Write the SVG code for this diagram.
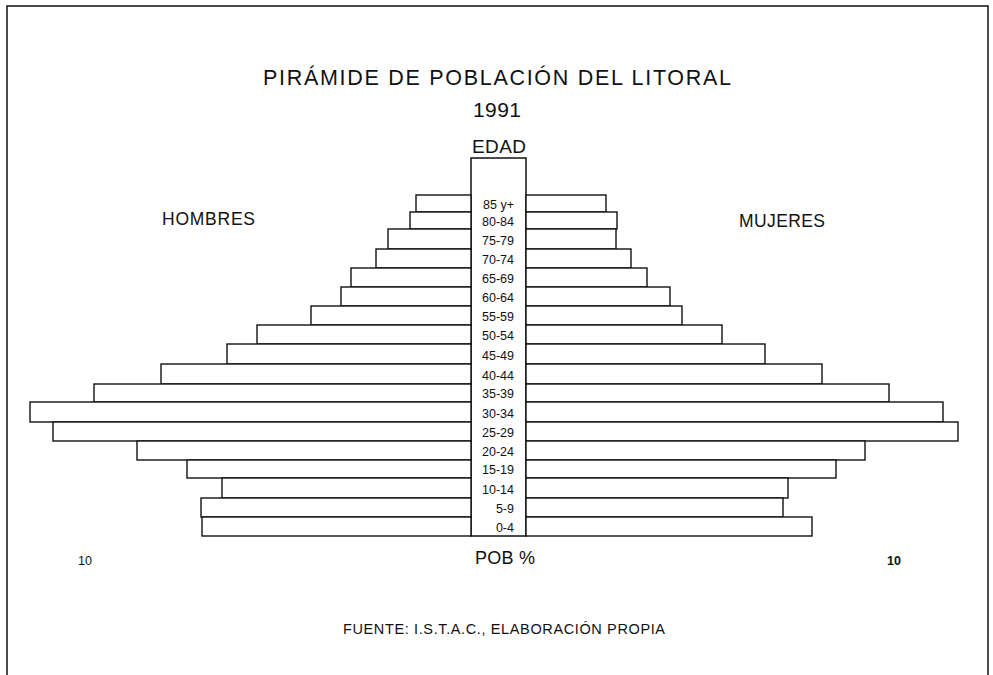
<svg xmlns="http://www.w3.org/2000/svg" width="993" height="675" viewBox="0 0 993 675">
<style>
.bg{fill:#fff}
.frame{fill:none;stroke:#111;stroke-width:1.5}
.bar{fill:#fff;stroke:#111;stroke-width:1.4}
.col{fill:#fff;stroke:#111;stroke-width:1.5}
.t{font-family:"Liberation Sans",Arial,sans-serif;fill:#111}
.age{font-family:"Liberation Sans",Arial,sans-serif;font-size:12.5px;fill:#111;text-anchor:end}
</style>
<rect class="bg" x="0" y="0" width="993" height="675"/>
<g id="frame">
<path class="frame" d="M7,675 V6 H988 V675"/>
</g>
<g id="titles">
<text class="t" x="263" y="85" font-size="21.5" textLength="468" lengthAdjust="spacing">PIRÁMIDE DE POBLACIÓN DEL LITORAL</text>
<text class="t" x="473" y="117" font-size="21" textLength="48" lengthAdjust="spacing">1991</text>
</g>
<g id="column">
<rect class="col" x="471" y="158" width="55" height="378"/>
<text class="t" x="472" y="153" font-size="19" textLength="54" lengthAdjust="spacing">EDAD</text>
</g>
<g id="side-labels">
<text class="t" x="162" y="225" font-size="17.5" textLength="93" lengthAdjust="spacing">HOMBRES</text>
<text class="t" x="739" y="227" font-size="17.5" textLength="86" lengthAdjust="spacing">MUJERES</text>
</g>
<g id="bars">
<g id="row-85"><rect class="bar" x="416" y="195" width="55" height="17"/><rect class="bar" x="526" y="195" width="80" height="17"/><text class="age" x="514" y="209">85 y+</text></g>
<g id="row-80"><rect class="bar" x="410" y="212" width="61" height="17"/><rect class="bar" x="526" y="212" width="91" height="17"/><text class="age" x="514" y="226">80-84</text></g>
<g id="row-75"><rect class="bar" x="388" y="229" width="83" height="20"/><rect class="bar" x="526" y="229" width="90" height="20"/><text class="age" x="514" y="245">75-79</text></g>
<g id="row-70"><rect class="bar" x="376" y="249" width="95" height="19"/><rect class="bar" x="526" y="249" width="105" height="19"/><text class="age" x="514" y="264">70-74</text></g>
<g id="row-65"><rect class="bar" x="351" y="268" width="120" height="19"/><rect class="bar" x="526" y="268" width="121" height="19"/><text class="age" x="514" y="283">65-69</text></g>
<g id="row-60"><rect class="bar" x="341" y="287" width="130" height="19"/><rect class="bar" x="526" y="287" width="144" height="19"/><text class="age" x="514" y="302">60-64</text></g>
<g id="row-55"><rect class="bar" x="311" y="306" width="160" height="19"/><rect class="bar" x="526" y="306" width="156" height="19"/><text class="age" x="514" y="321">55-59</text></g>
<g id="row-50"><rect class="bar" x="257" y="325" width="214" height="19"/><rect class="bar" x="526" y="325" width="196" height="19"/><text class="age" x="514" y="340">50-54</text></g>
<g id="row-45"><rect class="bar" x="227" y="344" width="244" height="20"/><rect class="bar" x="526" y="344" width="239" height="20"/><text class="age" x="514" y="360">45-49</text></g>
<g id="row-40"><rect class="bar" x="161" y="364" width="310" height="20"/><rect class="bar" x="526" y="364" width="296" height="20"/><text class="age" x="514" y="380">40-44</text></g>
<g id="row-35"><rect class="bar" x="94" y="384" width="377" height="18"/><rect class="bar" x="526" y="384" width="363" height="18"/><text class="age" x="514" y="398">35-39</text></g>
<g id="row-30"><rect class="bar" x="30" y="402" width="441" height="20"/><rect class="bar" x="526" y="402" width="417" height="20"/><text class="age" x="514" y="418">30-34</text></g>
<g id="row-25"><rect class="bar" x="53" y="422" width="418" height="19"/><rect class="bar" x="526" y="422" width="432" height="19"/><text class="age" x="514" y="437">25-29</text></g>
<g id="row-20"><rect class="bar" x="137" y="441" width="334" height="19"/><rect class="bar" x="526" y="441" width="339" height="19"/><text class="age" x="514" y="456">20-24</text></g>
<g id="row-15"><rect class="bar" x="187" y="460" width="284" height="18"/><rect class="bar" x="526" y="460" width="310" height="18"/><text class="age" x="514" y="474">15-19</text></g>
<g id="row-10"><rect class="bar" x="222" y="478" width="249" height="20"/><rect class="bar" x="526" y="478" width="262" height="20"/><text class="age" x="514" y="494">10-14</text></g>
<g id="row-5"><rect class="bar" x="201" y="498" width="270" height="19"/><rect class="bar" x="526" y="498" width="257" height="19"/><text class="age" x="514" y="513">5-9</text></g>
<g id="row-0"><rect class="bar" x="202" y="517" width="269" height="19"/><rect class="bar" x="526" y="517" width="286" height="19"/><text class="age" x="514" y="532">0-4</text></g>
</g>
<g id="axis-labels">
<text class="t" x="78" y="565" font-size="12.5">10</text>
<text class="t" x="475" y="564" font-size="18" textLength="60" lengthAdjust="spacing">POB %</text>
<text class="t" x="887" y="565" font-size="12.5" font-weight="bold">10</text>
</g>
<g id="source">
<text class="t" x="343" y="634" font-size="14.5" textLength="322" lengthAdjust="spacing">FUENTE: I.S.T.A.C., ELABORACIÓN PROPIA</text>
</g>
</svg>
